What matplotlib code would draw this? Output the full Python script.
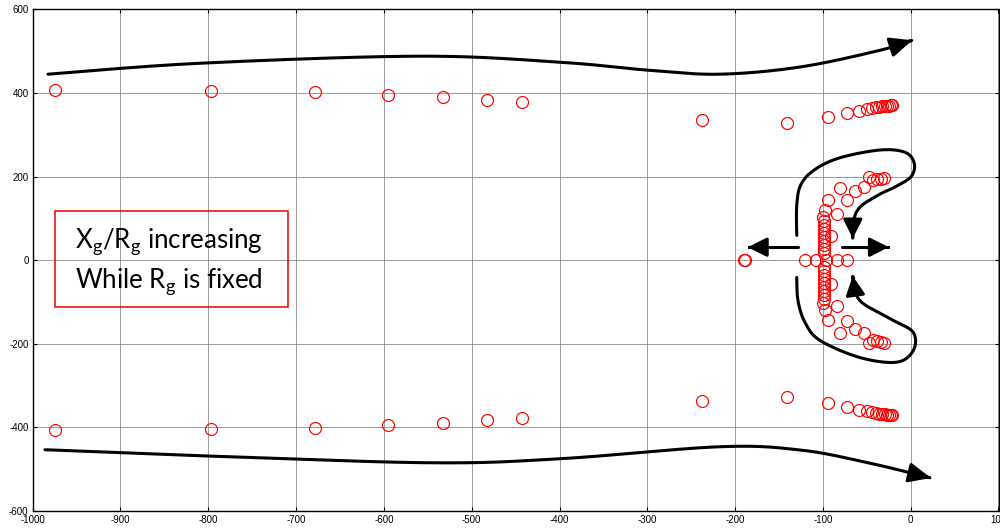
import numpy as np
import matplotlib
matplotlib.use("Agg")
import matplotlib.pyplot as plt
from matplotlib.patches import FancyArrowPatch, Rectangle
from matplotlib.path import Path

# Closed-loop pole locations (upper half-plane; the lower half is the conjugate)
outer_re = [-974.6, -796.9, -678.4, -595.3, -532.7, -482.6, -442.7,
            -238.0, -140.5, -93.8, -72.2, -58.5, -50.1, -44.4, -39.9,
            -36.1, -32.7, -29.6, -27.0, -24.7, -22.8, -21.0]
outer_im = [406.5, 404.0, 401.7, 394.5, 389.7, 382.5, 377.7,
            336.3, 327.4, 341.8, 351.4, 357.8, 361.7, 364.0, 365.7,
            367.4, 368.1, 368.9, 369.8, 369.8, 370.5, 370.5]

inner_re = [-30.1, -34.2, -38.0, -42.9, -47.2, -53.2, -63.4, -80.5, -72.9,
            -93.8, -84.3, -97.6, -99.5, -99.3, -99.3, -99.3, -99.3, -99.3,
            -99.3, -99.3, -99.3, -99.3, -91.1]
inner_im = [197.4, 195.0, 193.3, 190.9, 198.8, 174.9, 164.6, 173.4, 144.7,
            143.0, 109.5, 119.0, 103.0, 92.7, 83.1, 73.5, 64.0, 54.4,
            44.8, 35.2, 25.6, 16.0, 57.5]

# Poles on the real axis
real_re = [-188.2, -189.4, -120.4, -107.9, -96.8, -84.3, -72.9]

x_ticks = list(range(-1000, 101, 100))
y_ticks = list(range(-600, 601, 200))

label_lines = [r"X$_{\mathregular{g}}$/R$_{\mathregular{g}}$ increasing",
               r"While R$_{\mathregular{g}}$ is fixed"]

plt.rcParams["font.family"] = ["Liberation Sans", "DejaVu Sans"]
plt.rcParams["axes.unicode_minus"] = False
plt.rcParams["mathtext.fontset"] = "custom"
plt.rcParams["mathtext.rm"] = "Lato"

fig = plt.figure(figsize=(10, 5.29), dpi=100)
ax = fig.add_axes([0.0327, 0.034, 0.9658, 0.9484])

up_re = np.array(outer_re + inner_re)
up_im = np.array(outer_im + inner_im)
pole_re = np.concatenate([up_re, up_re, real_re])
pole_im = np.concatenate([up_im, -up_im, np.zeros(len(real_re))])

ax.plot(pole_re, pole_im, linestyle="none", marker="o", ms=8.6,
        mfc="none", mec="#ff0000", mew=0.85, zorder=3)

ax.set_xlim(-1000, 100)
ax.set_ylim(-600, 600)
ax.set_xticks(x_ticks)
ax.set_yticks(y_ticks)
ax.grid(True, color="#8c8c8c", lw=0.6)
ax.set_axisbelow(True)
ax.tick_params(direction="in", length=3, width=0.8, top=True, right=True,
               labelsize=7, pad=3)
for s in ax.spines.values():
    s.set_linewidth(1.0)


def smooth(points, n=30):
    """Catmull-Rom curve through the given control points."""
    p = np.asarray(points, float)
    p = np.vstack([p[0], p, p[-1]])
    out = []
    for i in range(1, len(p) - 2):
        p0, p1, p2, p3 = p[i - 1], p[i], p[i + 1], p[i + 2]
        t = np.linspace(0, 1, n, endpoint=False)[:, None]
        out.append(0.5 * ((2 * p1) + (-p0 + p2) * t
                          + (2 * p0 - 5 * p1 + 4 * p2 - p3) * t ** 2
                          + (-p0 + 3 * p1 - 3 * p2 + p3) * t ** 3))
    out.append(p[-2][None, :])
    return np.vstack(out)


def stroke(points, hl, hw, lw=2.2):
    verts = smooth(points)
    arr = FancyArrowPatch(path=Path(verts),
                          arrowstyle=f"-|>,head_length={hl},head_width={hw}",
                          mutation_scale=1, lw=lw, color="black",
                          joinstyle="round", capstyle="round", zorder=4)
    ax.add_patch(arr)


# Trend of the outer pole pairs
stroke([(-982.6, 444.8), (-809.5, 471.0), (-558.9, 487.9), (-399.5, 473.5),
        (-297.0, 454.0), (-217.2, 444.8), (-126.0, 462.0), (-35.0, 502.0),
        (1.8, 526.0)], 13.5, 6.0)
stroke([(-986.0, -453.4), (-809.5, -467.8), (-547.5, -484.6), (-399.5, -475.0),
        (-217.2, -446.2), (-126.2, -454.0), (-50.1, -483.8), (23.1, -521.0)],
       13.5, 6.0)

# Movement of the inner poles
stroke([(-129.8, 59.2), (-129.8, 131.0), (-125.0, 181.0), (-109.0, 217.0),
        (-80.5, 245.0), (-35.0, 263.5), (-6.5, 258.0), (4.0, 232.0),
        (0.5, 200.0), (-17.9, 175.0), (-35.0, 158.0), (-57.7, 127.0),
        (-65.7, 90.0), (-66.0, 52.0)], 11.5, 5.8)
stroke([(-129.8, -41.4), (-128.4, -96.5), (-120.4, -149.0), (-103.3, -192.0),
        (-57.7, -233.0), (-15.9, -244.0), (3.0, -216.0), (3.0, -173.0),
        (-19.8, -144.0), (-54.0, -104.0), (-63.5, -72.6), (-66.0, -38.0)],
       11.5, 5.8)
stroke([(-128.0, 31.0), (-185.5, 31.0)], 11.5, 5.8)
stroke([(-78.6, 31.0), (-25.0, 31.0)], 11.5, 5.8)

# Annotation box
ax.add_patch(Rectangle((-974.6, -110.9), 265.7, 227.5, fill=False,
                       ec="#ee0000", lw=1.1, zorder=5))
ax.text(-951.5, 44, label_lines[0], fontsize=18.6, family="Lato",
        ha="left", va="center", zorder=6)
ax.text(-951.5, -51, label_lines[1], fontsize=18.6, family="Lato",
        ha="left", va="center", zorder=6)

fig.savefig("out.png", dpi=100)
